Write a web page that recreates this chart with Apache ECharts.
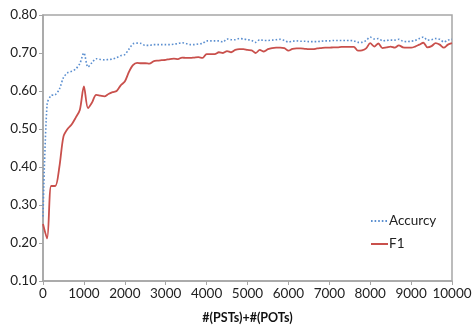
<!DOCTYPE html>
<html><head><meta charset="utf-8">
<script src="https://cdn.jsdelivr.net/npm/echarts@6/dist/echarts.min.js"></script>
<style>html,body{margin:0;padding:0;background:#fff}#c{width:476px;height:329px}</style>
</head><body><div id="c"></div>
<script>
var xValues = [];
for (var i = 0; i <= 100; i++) xValues.push(i * 100);
var accuracy = [0.27,0.565,0.588,0.59,0.605,0.635,0.648,0.652,0.658,0.672,
0.700,0.663,0.675,0.685,0.683,0.682,0.683,0.684,0.688,0.693,
0.696,0.710,0.724,0.726,0.725,0.720,0.720,0.722,0.722,0.722,
0.722,0.722,0.723,0.725,0.727,0.725,0.722,0.722,0.724,0.725,
0.732,0.732,0.732,0.732,0.729,0.737,0.735,0.735,0.738,0.737,
0.735,0.733,0.728,0.735,0.733,0.733,0.734,0.735,0.736,0.733,
0.729,0.731,0.732,0.731,0.731,0.730,0.730,0.730,0.731,0.732,
0.732,0.733,0.733,0.733,0.733,0.733,0.732,0.728,0.728,0.733,
0.742,0.737,0.738,0.732,0.733,0.734,0.734,0.736,0.731,0.730,
0.731,0.733,0.738,0.742,0.734,0.735,0.738,0.736,0.729,0.734,0.736];
var f1 = [0.25,0.212,0.35,0.35,0.40,0.48,0.50,0.512,0.53,0.55,
0.612,0.555,0.57,0.59,0.588,0.586,0.592,0.597,0.60,0.615,
0.625,0.65,0.668,0.674,0.673,0.673,0.672,0.678,0.680,0.681,
0.682,0.684,0.685,0.684,0.688,0.687,0.687,0.688,0.689,0.687,
0.697,0.697,0.697,0.702,0.700,0.705,0.702,0.708,0.710,0.710,
0.708,0.707,0.700,0.708,0.704,0.710,0.713,0.714,0.714,0.713,
0.706,0.711,0.712,0.712,0.711,0.710,0.710,0.712,0.713,0.714,
0.714,0.715,0.715,0.716,0.716,0.716,0.716,0.706,0.707,0.712,
0.726,0.717,0.725,0.713,0.715,0.717,0.714,0.720,0.715,0.714,
0.714,0.717,0.722,0.727,0.715,0.718,0.726,0.722,0.714,0.722,0.726];
var seriesNames = ['Accurcy', 'F1'];
var xTitle = '#(PSTs)+#(POTs)';

function pairs(ys){ return ys.map(function(v,i){ return [xValues[i], v]; }); }

var chart = echarts.init(document.getElementById('c'), null, {renderer:'canvas'});
var font = 'Lato';
chart.setOption({
  animation: false,
  grid: {left: 43, right: 24, top: 15, bottom: 41, show: true, borderColor: '#a6a6a6', borderWidth: 1.5},
  legend: {
    orient: 'vertical', left: 365, top: 209, itemWidth: 17, itemHeight: 10, itemGap: 9,
    itemStyle: {opacity: 0},
    textStyle: {fontFamily: font, fontSize: 13.5, color: '#222', padding: [0,0,0,-4]},
    data: seriesNames
  },
  xAxis: {
    type: 'value', min: 0, max: 10000, interval: 1000,
    name: xTitle, nameLocation: 'middle', nameGap: 30,
    nameTextStyle: {fontFamily: font, fontSize: 12.5, fontWeight: 'bold', color: '#111'},
    axisLine: {lineStyle: {color: '#a6a6a6', width: 1.5}},
    axisTick: {show: true, length: 4, lineStyle: {color: '#a6a6a6'}},
    axisLabel: {fontFamily: font, fontSize: 13.5, color: '#222', margin: 6,
      formatter: function(v){ return String(v); }},
    splitLine: {show: false}
  },
  yAxis: {
    type: 'value', min: 0.1, max: 0.8, interval: 0.1,
    axisLine: {show: true, lineStyle: {color: '#a6a6a6', width: 1.5}},
    axisTick: {show: true, length: 4, lineStyle: {color: '#a6a6a6'}},
    axisLabel: {fontFamily: font, fontSize: 13.5, color: '#222', margin: 6,
      formatter: function(v){ return v.toFixed(2); }},
    splitLine: {show: false}
  },
  series: [
    {name: seriesNames[0], type: 'line', data: pairs(accuracy), smooth: 0.3, symbol: 'none',
     lineStyle: {color: '#5b8fd0', width: 1.6, type: [1.6, 2]}, itemStyle: {color: '#5b8fd0'}},
    {name: seriesNames[1], type: 'line', data: pairs(f1), smooth: 0.3, symbol: 'none',
     lineStyle: {color: '#c9504c', width: 1.8}, itemStyle: {color: '#c9504c'}}
  ]
});
</script></body></html>
